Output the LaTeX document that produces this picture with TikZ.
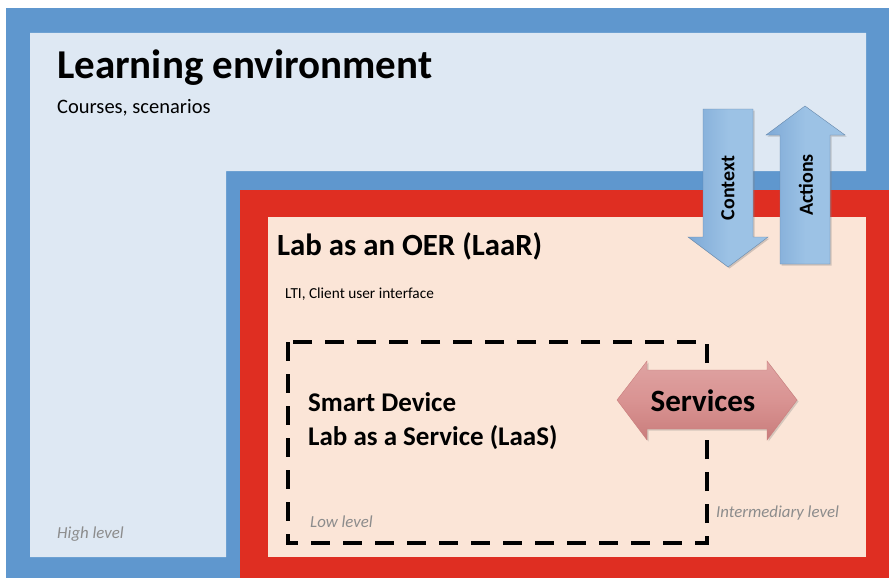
\documentclass[tikz,border=0pt]{standalone}
\usepackage{fontspec}
\setmainfont{Carlito}
\usetikzlibrary{shadows}
\definecolor{outerblue}{HTML}{5F97CE}
\definecolor{paleblue}{HTML}{DEE8F3}
\definecolor{laarred}{HTML}{DF2E22}
\definecolor{peach}{HTML}{FBE5D7}
\definecolor{arrowblue}{HTML}{9CC2E5}
\definecolor{arrowblued}{HTML}{7EA9D6}
\definecolor{svcpink}{HTML}{D99392}
\definecolor{svcpinkd}{HTML}{C97D7C}
\definecolor{levelgray}{HTML}{8C8C8C}
\tikzset{
  title/.style={anchor=base west, inner sep=0pt, font=\bfseries\fontsize{#1}{#1}\selectfont},
  plain/.style={anchor=base west, inner sep=0pt, font=\fontsize{#1}{#1}\selectfont},
  levellabel/.style={anchor=base west, inner sep=0pt, text=levelgray, font=\itshape\fontsize{16.8}{16.8}\selectfont},
  bluearrow/.style={left color=arrowblued, right color=arrowblue, middle color=arrowblue, draw=arrowblued!80!black, line width=0.4pt,
     drop shadow={shadow xshift=1.5pt, shadow yshift=-1.5pt, opacity=0.35}},
  arrowtext/.style={inner sep=0pt, rotate=90, font=\bfseries\fontsize{20}{20}\selectfont},
  dashbox/.style={line width=3.5pt, dash pattern=on 19pt off 13pt},
}
\begin{document}
\begin{tikzpicture}[x=1pt,y=-1pt]
\useasboundingbox (0,0) rectangle (889,578);
% outer blue frame
\fill[outerblue] (6,8) rectangle (889,578);
% pale blue learning environment area
\fill[paleblue] (30,33) -- (866,33) -- (866,171) -- (226,171) -- (226,557) -- (30,557) -- cycle;
% red LaaR frame
\fill[laarred] (240,190) rectangle (889,578);
\fill[peach] (268,217) rectangle (866,557);
% dashed LaaS box
\draw[dashbox] (288,342) rectangle (707,543);
% texts
\node[title=41] (le) at (57,78) {Learning environment};
\node[plain=20.5] (cs) at (57,113) {Courses, scenarios};
\node[title=30.8] (laar) at (277,255) {Lab as an OER (LaaR)};
\node[plain=15.3] (lti) at (285,298) {LTI, Client user interface};
\node[title=27] (sd) at (308,411) {Smart Device};
\node[title=27] (laas) at (308,445) {Lab as a Service (LaaS)};
\node[levellabel] (hl) at (57,538) {High level};
\node[levellabel] (ll) at (310,527) {Low level};
\node[levellabel] (il) at (716,517) {Intermediary level};
% Context arrow (down)
\path[bluearrow] (703,109) -- (753,109) -- (753,237) -- (768,237) -- (728,267) -- (688,237) -- (703,237) -- cycle;
\node[arrowtext] (ctx) at (728,188) {Context};
% Actions arrow (up)
\path[bluearrow] (780,264) -- (830,264) -- (830,135) -- (845,135) -- (805,106) -- (766,135) -- (780,135) -- cycle;
\node[arrowtext] (act) at (806,185) {Actions};
% Services double arrow
\path[top color=svcpink!85!white, bottom color=svcpinkd, middle color=svcpink, draw=svcpinkd, line width=0.4pt,
  drop shadow={shadow xshift=1.5pt, shadow yshift=-1.5pt, opacity=0.3}]
  (617,400) -- (647,361) -- (647,370) -- (767,370) -- (767,361) -- (797,400) -- (767,440) -- (767,429) -- (647,429) -- (647,440) -- cycle;
\node[inner sep=0pt, font=\bfseries\fontsize{31}{31}\selectfont] (svc) at (703,401) {Services};
\end{tikzpicture}
\end{document}
